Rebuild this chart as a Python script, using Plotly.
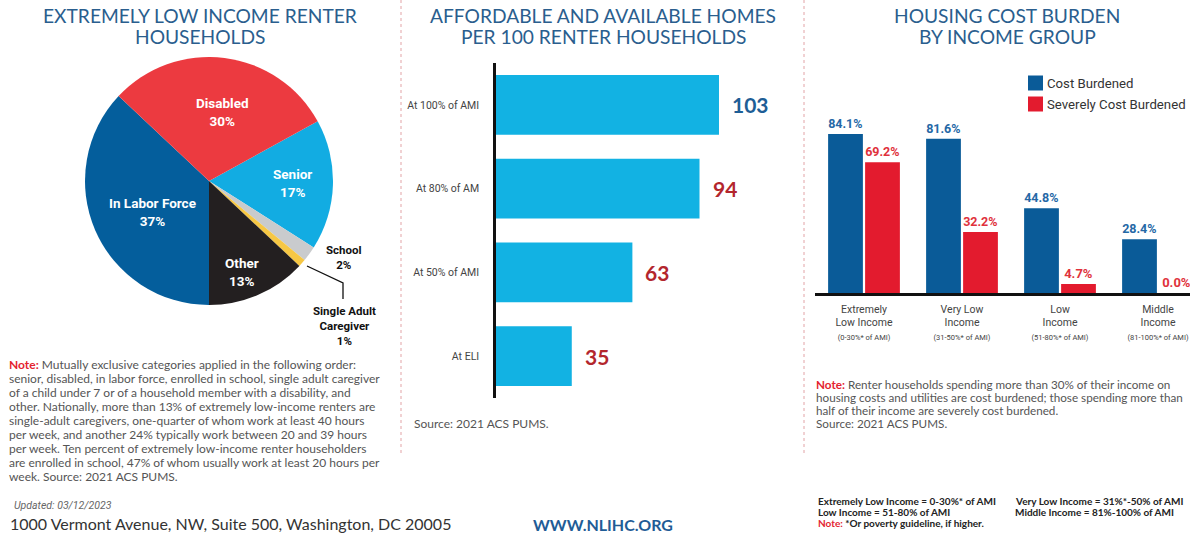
import plotly.graph_objects as go

W, H = 1190, 539

# ---- data -------------------------------------------------------------
pie_labels = ["Senior", "School", "Single Adult Caregiver", "Other",
              "In Labor Force", "Disabled"]
pie_values = [17, 2, 1, 13, 37, 30]
pie_colors = ["#12ACE2", "#C9CBCD", "#F6C744", "#231F20", "#045E9C", "#EC3A40"]

supply_levels = ["At ELI", "At 50% of AMI", "At 80% of AM", "At 100% of AMI"]
supply_values = [35, 63, 94, 103]

burden_groups = ["Extremely<br>Low Income", "Very Low<br>Income",
                 "Low<br>Income", "Middle<br>Income"]
burden_ranges = ["(0-30%* of AMI)", "(31-50%* of AMI)",
                 "(51-80%* of AMI)", "(81-100%* of AMI)"]
cost_burdened = [84.1, 81.6, 44.8, 28.4]
severely_burdened = [69.2, 32.2, 4.7, 0.0]

# ---- styling ----------------------------------------------------------
BLUE_T = "#2A5E8E"
DEEP_RED = "#B3262D"
GRAY = "#555555"
COND = "Roboto, sans-serif"
BODY = "Lato, Open Sans, sans-serif"


def px(x):
    return x / W


def py(y):
    return 1 - y / H


def label(x, y, text, size, color, family=BODY, anchor="left"):
    return dict(x=px(x), y=py(y), xref="paper", yref="paper", text=text,
                showarrow=False, xanchor=anchor, yanchor="middle",
                font=dict(family=family, size=size, color=color))


fig = go.Figure()

# pie of extremely low income renter households
fig.add_trace(go.Pie(
    labels=pie_labels, values=pie_values, sort=False,
    direction="clockwise", rotation=61.2,
    marker=dict(colors=pie_colors, line=dict(width=0)),
    textinfo="none", hoverinfo="label+percent", showlegend=False,
    domain=dict(x=[px(85), px(333)], y=[py(305), py(57)]),
))

# affordable and available homes
fig.add_trace(go.Bar(
    x=supply_values, y=list(range(len(supply_levels))), orientation="h",
    marker=dict(color="#12B2E3", line=dict(width=0)), width=0.714,
    xaxis="x", yaxis="y", showlegend=False, hoverinfo="x",
))

# housing cost burden
fig.add_trace(go.Bar(
    name="Cost Burdened", x=list(range(4)), y=cost_burdened,
    marker=dict(color="#0A5B98", line=dict(width=0)),
    text=[f"<b>{v:.1f}%</b>" for v in cost_burdened], textposition="outside",
    textfont=dict(family=COND, size=13, color="#2568A6"),
    cliponaxis=False, xaxis="x2", yaxis="y2", showlegend=False,
))
fig.add_trace(go.Bar(
    name="Severely Cost Burdened", x=list(range(4)), y=severely_burdened,
    marker=dict(color="#E31B2E", line=dict(width=0)),
    text=[f"<b>{v:.1f}%</b>" for v in severely_burdened], textposition="outside",
    textfont=dict(family=COND, size=13, color="#E0323C"),
    cliponaxis=False, xaxis="x2", yaxis="y2", showlegend=False,
))

ann = []
shapes = []

# panel titles
for cx, lines in [(200, ["EXTREMELY LOW INCOME RENTER", "HOUSEHOLDS"]),
                  (603, ["AFFORDABLE AND AVAILABLE HOMES",
                         "PER 100 RENTER HOUSEHOLDS"]),
                  (1007, ["HOUSING COST BURDEN", "BY INCOME GROUP"])]:
    for i, t in enumerate(lines):
        ann.append(label(cx, 16 + 21 * i, t, 19.2, BLUE_T, anchor="center"))

# pie slice labels
for x, y, t, c in [(222, 112, "Disabled<br>30%", "white"),
                   (292, 183, "Senior<br>17%", "white"),
                   (152, 212, "In Labor Force<br>37%", "white"),
                   (242, 272, "Other<br>13%", "white"),
                   (344, 257, "School<br>2%", "#111111"),
                   (344, 326, "Single Adult<br>Caregiver<br>1%", "#111111")]:
    ann.append(label(x, y, f"<b>{t}</b>", 13.5 if c == "white" else 11.5, c,
                     family=COND, anchor="center"))
shapes.append(dict(type="path", xref="paper", yref="paper",
                   path=f"M {px(307)} {py(266)} L {px(343)} {py(283)} "
                        f"L {px(343)} {py(299)}",
                   line=dict(color="#111111", width=1.3)))

# left note
note_left = [
    "<span style='color:#E4232F'><b>Note:</b></span> Mutually exclusive categories applied in the following order:",
    "senior, disabled, in labor force, enrolled in school, single adult caregiver",
    "of a child under 7 or of a household member with a disability, and",
    "other. Nationally, more than 13% of extremely low-income renters are",
    "single-adult caregivers, one-quarter of whom work at least 40 hours",
    "per week, and another 24% typically work between 20 and 39 hours",
    "per week. Ten percent of extremely low-income renter householders",
    "are enrolled in school, 47% of whom usually work at least 20 hours per",
    "week. Source: 2021 ACS PUMS.",
]
for i, t in enumerate(note_left):
    ann.append(label(7, 364 + 14.1 * i, t, 12, GRAY))

ann.append(label(12, 505, "<i>Updated: 03/12/2023</i>", 10.5, "#666666",
                 family=COND))
ann.append(label(8, 523,
                 "1000 Vermont Avenue, NW, Suite 500, Washington, DC 20005",
                 16, "#333333"))
ann.append(label(603, 524, "<b>WWW.NLIHC.ORG</b>", 16, "#1F5C96",
                 anchor="center"))

# middle chart value labels and source
for yi, v in enumerate(supply_values):
    ann.append(dict(x=v, y=yi, xref="x", yref="y", text=f"<b>{v}</b>",
                    showarrow=False, xanchor="left", yanchor="middle",
                    xshift=11,
                    font=dict(family=BODY, size=21,
                              color="#1E5E96" if v > 100 else DEEP_RED)))
ann.append(label(412, 424, "Source: 2021 ACS PUMS.", 12, GRAY))

# right chart legend
for i, (name, col) in enumerate([("Cost Burdened", "#0A5B98"),
                                 ("Severely Cost Burdened", "#E31B2E")]):
    yc = 83 + 21 * i
    shapes.append(dict(type="rect", xref="paper", yref="paper",
                       x0=px(1028), x1=px(1043), y0=py(yc + 7.5),
                       y1=py(yc - 7.5), fillcolor=col, line=dict(width=0)))
    ann.append(label(1045, yc, name, 13.2, "#333333", family=COND))

# right note
note_right = [
    "<span style='color:#E4232F'><b>Note:</b></span> Renter households spending more than 30% of their income on",
    "housing costs and utilities are cost burdened; those spending more than",
    "half of their income are severely cost burdened.",
    "Source: 2021 ACS PUMS.",
]
for i, t in enumerate(note_right):
    ann.append(label(814, 384 + 13 * i, t, 11.7, GRAY))

# income definitions
defs = [
    (816, 501, "<b>Extremely Low Income = 0-30%* of AMI</b>"),
    (816, 512, "<b>Low Income = 51-80% of AMI</b>"),
    (816, 523, "<span style='color:#E4232F'><b>Note:</b></span><b> *Or poverty guideline, if higher.</b>"),
    (1013, 501, "<b>Very Low Income = 31%*-50% of AMI</b>"),
    (1013, 512, "<b>Middle Income = 81%-100% of AMI</b>"),
]
for x, y, t in defs:
    ann.append(label(x, y, t, 10, "#222222"))

# dotted separators
for x in (401, 804):
    shapes.append(dict(type="line", xref="paper", yref="paper",
                       x0=px(x), x1=px(x), y0=py(0), y1=py(455),
                       line=dict(color="#E2A3A6", width=1, dash="dot")))

tick_text = [f"{g}<br><span style='font-size:7.5px'>{r}</span>"
             for g, r in zip(burden_groups, burden_ranges)]

fig.update_layout(
    width=W, height=H, margin=dict(l=0, r=0, t=0, b=0),
    paper_bgcolor="white", plot_bgcolor="white",
    barmode="group", bargap=0.245, bargroupgap=0.06,
    xaxis=dict(domain=[px(496), px(790)], range=[0, 294 / 2.165],
               visible=False, fixedrange=True),
    yaxis=dict(domain=[py(398), py(63)], range=[-0.5, 3.5],
               tickvals=list(range(len(supply_levels))),
               ticktext=supply_levels, ticks="", ticklabelstandoff=12,
               showline=True, linecolor="#111111", linewidth=2.5,
               showgrid=False, zeroline=False,
               tickfont=dict(family=COND, size=10.5, color="#444444")),
    xaxis2=dict(domain=[px(815), 1], range=[-0.5, 3.5 - 17 / 98],
                tickvals=list(range(4)), ticktext=tick_text, ticks="",
                ticklabelstandoff=4,
                showline=True, linecolor="#111111", linewidth=3,
                showgrid=False, zeroline=False, anchor="y2",
                tickfont=dict(family=COND, size=10.5, color="#444444")),
    yaxis2=dict(domain=[py(293), py(293 - 90 * 1.891)], range=[0, 90],
                visible=False, anchor="x2"),
    annotations=ann, shapes=shapes,
    font=dict(family=BODY),
)

fig.write_html("out.html")
